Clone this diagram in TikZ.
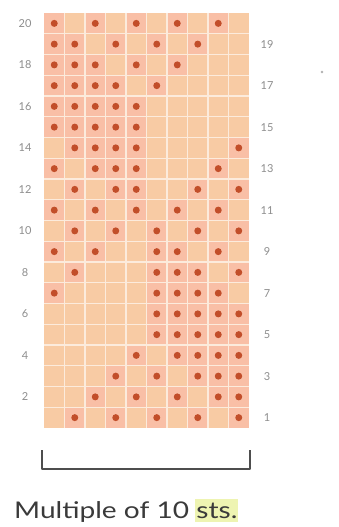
\documentclass[tikz,border=0pt]{standalone}
\usepackage{fontspec}
\usepackage{graphicx}
\setmainfont{Lato}
\definecolor{peach}{HTML}{F8CBA4}
\definecolor{pinkc}{HTML}{F9BFA6}
\definecolor{gridl}{HTML}{FCEBDC}
\definecolor{dotc}{HTML}{C24E2A}
\definecolor{numc}{HTML}{8E8E8E}
\definecolor{capc}{HTML}{3A3A3A}
\definecolor{hil}{HTML}{EEF4B2}
\tikzset{
  numl/.style={text=numc, font=\fontsize{11}{11}\selectfont, inner sep=0pt},
  stitch/.style={fill=dotc, draw=none},
  bracketl/.style={draw=capc!90, line width=2pt},
  captext/.style={text=capc, font=\fontsize{23}{23}\selectfont},
}
\newcommand{\dotrow}[2]{%
  \foreach \c in {#2} {
    \fill[pinkc] ({44+20.5*(\c-1)},{13+20.75*(20-#1)}) rectangle ++(20.5,20.75);
    \fill[stitch] ({44+20.5*(\c-0.5)},{13+20.75*(20.5-#1)}) circle (3.5);
  }%
}
\begin{document}
\begin{tikzpicture}[x=1pt,y=-1pt]
\useasboundingbox (0,0) rectangle (338,527);
\fill[white] (0,0) rectangle (338,527);
% grid background
\fill[peach] (44,13) rectangle (249,428);
\dotrow{20}{1,3,5,7,9}
\dotrow{19}{1,2,4,6,8}
\dotrow{18}{1,2,3,5,7}
\dotrow{17}{1,2,3,4,6}
\dotrow{16}{1,2,3,4,5}
\dotrow{15}{1,2,3,4,5}
\dotrow{14}{2,3,4,5,10}
\dotrow{13}{1,3,4,5,9}
\dotrow{12}{2,4,5,8,10}
\dotrow{11}{1,3,5,7,9}
\dotrow{10}{2,4,6,8,10}
\dotrow{9}{1,3,6,7,9}
\dotrow{8}{2,6,7,8,10}
\dotrow{7}{1,6,7,8,9}
\dotrow{6}{6,7,8,9,10}
\dotrow{5}{6,7,8,9,10}
\dotrow{4}{5,7,8,9,10}
\dotrow{3}{4,6,8,9,10}
\dotrow{2}{3,5,7,9,10}
\dotrow{1}{2,4,6,8,10}
% grid lines
\foreach \i in {1,...,9} \draw[gridl, line width=1.1pt] ({44+20.5*\i},13) -- ({44+20.5*\i},428);
\foreach \j in {1,...,19} \draw[gridl, line width=1.1pt] (44,{13+20.75*\j}) -- (249,{13+20.75*\j});
% row numbers
\foreach \r in {2,4,...,20} \node[numl] (l\r) at (25,{13+20.75*(20.5-\r)}) {\r};
\foreach \r in {1,3,...,19} \node[numl] (r\r) at (267,{13+20.75*(20.5-\r)}) {\r};
% stray speck
\fill[numc!70] (322,72) circle (1.3);
% bracket
\coordinate (bl) at (42,450);
\coordinate (br) at (250,450);
\draw[bracketl, line join=round] (bl) -- (42,469) -- (250,469) -- (br);
% caption
\node[anchor=base west, inner sep=0pt, captext] (cap) at (14,518) {\scalebox{1.22}[1]{Multiple of 10}};
\node[anchor=base west, inner xsep=1pt, inner ysep=4pt, fill=hil, captext] (sts) at ([xshift=6pt]cap.base east) {\scalebox{1.22}[1]{sts.}};
\end{tikzpicture}
\end{document}
